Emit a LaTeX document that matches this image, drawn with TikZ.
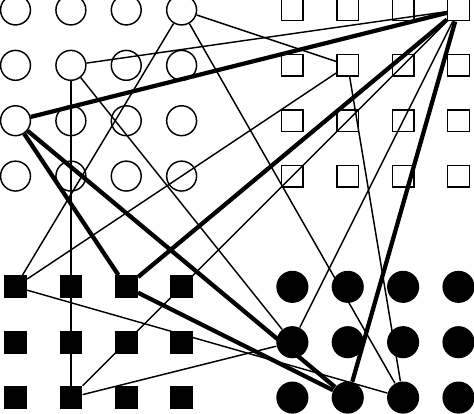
\documentclass[tikz,border=0pt]{standalone}
\usepackage{tikz}
\usetikzlibrary{calc}

\begin{document}
\begin{tikzpicture}[
    ocirc/.style={draw, black, circle, minimum size=0.54cm, inner sep=0pt, line width=0.75pt},
    fcirc/.style={fill, black, circle, minimum size=0.58cm, inner sep=0pt},
    obox/.style={draw, black, rectangle, minimum size=0.39cm, inner sep=0pt, line width=0.75pt},
    fbox/.style={fill, black, rectangle, minimum size=0.41cm, inner sep=0pt},
    link/.style={black, line width=0.75pt},
    linkb/.style={black, line width=2.2pt},
    ]

    \useasboundingbox (-0.28,0.18) rectangle (8.28,-7.29);

    % upper grids
    \foreach \r in {0,...,3}{
      \foreach \c in {0,...,3}
        \node(oc\r\c)[ocirc] at (\c,-\r){};
      \foreach \c in {5,...,8}
        \node(os\r\c)[obox] at (\c,-\r){};
    }
    % lower grids
    \foreach \r in {5,6,7}{
      \foreach \c in {0,...,3}
        \node(fs\r\c)[fbox] at (\c,-\r){};
      \foreach \c in {5,...,8}
        \node(fc\r\c)[fcirc] at (\c,-\r){};
    }

    % bold group
    \draw[linkb](oc20) -- (os08);
    \draw[linkb](oc20) -- (fs52);
    \draw[linkb](oc20) -- (fc76);
    \draw[linkb](fs52) -- (os08);
    \draw[linkb](fs52) -- (fc76);
    \draw[linkb](os08) -- (fc76);

    % thin groups
    \draw[link](oc11) -- (os08);
    \draw[link](oc11) -- (fs71);
    \draw[link](oc11) -- (fc65);
    \draw[link](os08) -- (fs71);
    \draw[link](os08) -- (fc65);
    \draw[link](fs71) -- (fc65);

    \draw[link](oc03) -- (os16);
    \draw[link](oc03) -- (fs50);
    \draw[link](oc03) -- (fc77);
    \draw[link](os16) -- (fs50);
    \draw[link](os16) -- (fc77);
    \draw[link](fs50) -- (fc77);

\end{tikzpicture}
\end{document}
